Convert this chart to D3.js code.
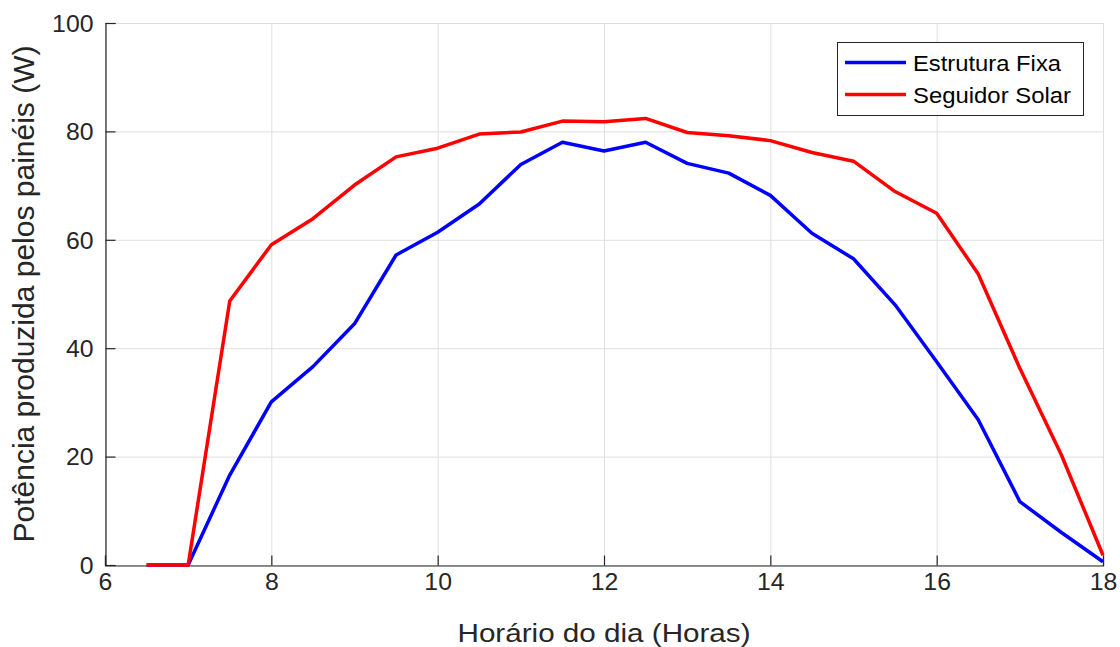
<!DOCTYPE html>
<html>
<head>
<meta charset="utf-8">
<script src="https://cdn.jsdelivr.net/npm/d3@7"></script>
<style>
  html, body { margin: 0; padding: 0; background: #fff; }
  svg { display: block; font-family: "Liberation Sans", Arial, Helvetica, sans-serif; }
</style>
</head>
<body>
<svg id="chart" width="1120" height="647"></svg>
<script>
// Hourly samples (every half hour)
const hours = [6.5, 7, 7.5, 8, 8.5, 9, 9.5, 10, 10.5, 11, 11.5, 12, 12.5, 13, 13.5, 14, 14.5, 15, 15.5, 16, 16.5, 17, 17.5, 18];
// Power from the fixed structure (W)
const fixa = [0, 0, 16.6, 30.1, 36.6, 44.5, 57.2, 61.4, 66.6, 73.9, 78.0, 76.4, 78.0, 74.1, 72.3, 68.2, 61.2, 56.5, 48.0, 37.5, 26.8, 11.7, 6.0, 0.6];
// Power from the solar tracker (W)
const seguidor = [0, 0, 48.7, 59.1, 63.9, 70.1, 75.3, 76.9, 79.5, 79.9, 81.9, 81.8, 82.4, 79.8, 79.2, 78.3, 76.1, 74.5, 68.9, 64.9, 53.7, 36.3, 20.3, 1.8];

const xTicks = [6, 8, 10, 12, 14, 16, 18];
const yTicks = [0, 20, 40, 60, 80, 100];
const seriesNames = ["Estrutura Fixa", "Seguidor Solar"];
const seriesColors = ["#0000ff", "#ff0000"];

const svg = d3.select("#chart");
const margin = { left: 105, right: 17, top: 23, bottom: 82 };
const W = 1120, H = 647;
const x = d3.scaleLinear().domain([6, 18]).range([margin.left, W - margin.right]);
const y = d3.scaleLinear().domain([0, 100]).range([H - margin.bottom, margin.top]);

// grid
const grid = svg.append("g").attr("stroke", "#dfdfdf").attr("stroke-width", 1);
grid.selectAll("line.gx").data(xTicks).join("line")
  .attr("x1", d => x(d) + 0.5).attr("x2", d => x(d) + 0.5)
  .attr("y1", y(100)).attr("y2", y(0));
grid.selectAll("line.gy").data(yTicks).join("line")
  .attr("y1", d => y(d) + 0.5).attr("y2", d => y(d) + 0.5)
  .attr("x1", x(6)).attr("x2", x(18));

// axes with inward ticks; digits are drawn slightly wide
const axisColor = "#262626";
const digitW = 13.8;
const xAxis = svg.append("g")
  .attr("transform", `translate(0,${y(0) + 0.5})`)
  .call(d3.axisBottom(x).tickValues(xTicks).tickSize(-10).tickPadding(8).tickFormat(d3.format("d")));
const yAxis = svg.append("g")
  .attr("transform", `translate(${x(6) + 0.5},0)`)
  .call(d3.axisLeft(y).tickValues(yTicks).tickSize(-10).tickPadding(12).tickFormat(d3.format("d")));
[xAxis, yAxis].forEach(g => {
  g.select(".domain").attr("stroke", axisColor).attr("stroke-width", 1.2);
  g.selectAll(".tick line").attr("stroke", axisColor).attr("stroke-width", 1.2);
  g.selectAll(".tick text").attr("fill", "#262626").style("font-size", "23px")
    .attr("textLength", d => String(d).length * digitW)
    .attr("lengthAdjust", "spacingAndGlyphs");
});
yAxis.selectAll(".tick text").attr("dy", "0.36em");
xAxis.selectAll(".tick text").attr("dy", "0.72em");

// series lines
const line = d3.line().x((d, i) => x(hours[i])).y(d => y(d));
[fixa, seguidor].forEach((s, k) => {
  svg.append("path").datum(s)
    .attr("fill", "none")
    .attr("stroke", seriesColors[k])
    .attr("stroke-width", 3.5)
    .attr("stroke-linejoin", "round")
    .attr("d", line);
});

// axis titles
svg.append("text")
  .attr("x", x(12)).attr("y", 642)
  .attr("text-anchor", "middle")
  .attr("fill", "#262626").style("font-size", "25.5px")
  .attr("textLength", 293).attr("lengthAdjust", "spacingAndGlyphs")
  .text("Horário do dia (Horas)");
svg.append("text")
  .attr("transform", `translate(33.5,${(y(0) + y(100)) / 2}) rotate(-90)`)
  .attr("text-anchor", "middle")
  .attr("fill", "#262626").style("font-size", "29px")
  .attr("textLength", 497).attr("lengthAdjust", "spacingAndGlyphs")
  .text("Potência produzida pelos painéis (W)");

// legend
const legendTextW = [148, 158];
const lg = svg.append("g").attr("transform", "translate(837,42)");
lg.append("rect").attr("x", 0.5).attr("y", 0.5).attr("width", 246).attr("height", 73)
  .attr("fill", "#fff").attr("stroke", "#262626").attr("stroke-width", 1);
seriesNames.forEach((name, i) => {
  const cy = 20.5 + i * 32;
  lg.append("line").attr("x1", 8).attr("x2", 69).attr("y1", cy).attr("y2", cy)
    .attr("stroke", seriesColors[i]).attr("stroke-width", 3.5);
  lg.append("text").attr("x", 76).attr("y", cy).attr("dy", "0.36em")
    .attr("fill", "#000").style("font-size", "22.5px")
    .attr("textLength", legendTextW[i]).attr("lengthAdjust", "spacingAndGlyphs")
    .text(name);
});
</script>
</body>
</html>
